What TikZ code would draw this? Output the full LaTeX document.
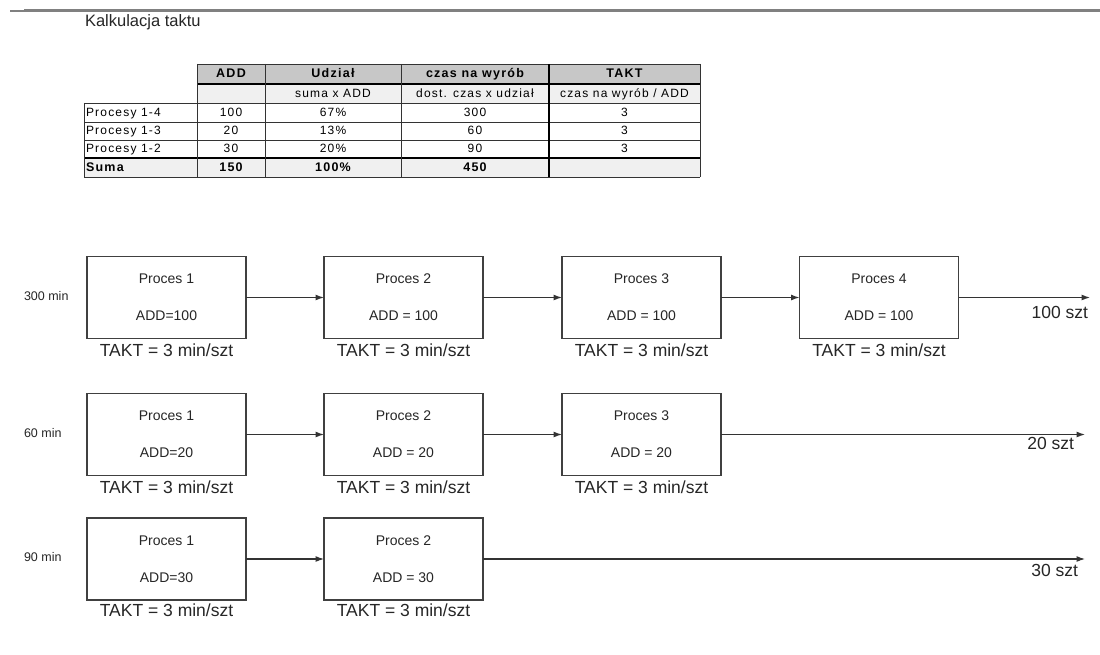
\documentclass[tikz,border=0pt]{standalone}
\usepackage{fontspec}
\setmainfont{Liberation Sans}
\newfontfamily\tabfont[LetterSpace=10]{Liberation Sans}
\usetikzlibrary{arrows.meta}
\begin{document}
\begin{tikzpicture}[x=1pt,y=-1pt,
  every node/.style={inner sep=0pt,outer sep=0pt,text=black!85},
  box/.style={draw=black!75,line width=1.2pt,minimum width=159pt,minimum height=82pt,align=center,font=\fontsize{14}{37}\selectfont},
  takt/.style={font=\fontsize{17.5}{20}\selectfont,text height=0.72em,text depth=0pt},
  mins/.style={anchor=west,font=\fontsize{12.5}{15}\selectfont,text height=0.72em,text depth=0pt},
  szt/.style={anchor=east,font=\fontsize{17.5}{20}\selectfont,text height=0.72em,text depth=0pt},
  flow/.style={draw=black!80,line width=1.1pt,-{Latex[length=8.5pt,width=6pt]}},
  tc/.style={font=\tabfont\fontsize{12}{14}\selectfont,text height=0.72em,text depth=0pt,text=black},
  tb/.style={font=\tabfont\bfseries\fontsize{12.5}{14}\selectfont,text height=0.72em,text depth=0pt,text=black},
  tl/.style={tc,anchor=west},
  thin/.style={draw=black!80,line width=0.8pt},
  thick/.style={draw=black,line width=1.6pt}
]
\fill[white] (0,0) rectangle (1100,655);
\useasboundingbox (0,0) rectangle (1100,655);

% top rule
\draw[line width=2pt,black!50] (10,11.5) -- (24,11.5);
\draw[line width=3pt,black!50] (24,10.5) -- (1100,10.5);
\node[anchor=west,font=\fontsize{16.5}{20}\selectfont,text height=0.72em,text depth=0pt] (title) at (85,22.5) {Kalkulacja taktu};

% ---------- table ----------
\fill[black!22] (197,64) rectangle (700,84);
\fill[black!6] (197,84) rectangle (700,103);
\fill[black!6] (84,158) rectangle (700,177);
% horizontal lines
\draw[thin] (197,64) -- (700,64);
\draw[thin] (197,103) -- (700,103);
\draw[thin] (84,103) -- (197,103);
\draw[thin] (84,122) -- (700,122);
\draw[thin] (84,140) -- (700,140);
\draw[thin] (84,177) -- (700,177);
\draw[thick] (197,84) -- (700,84);
\draw[thick] (84,158) -- (700,158);
% vertical lines
\draw[thin] (84,103) -- (84,177);
\draw[thin] (197,64) -- (197,177);
\draw[thin] (265,64) -- (265,177);
\draw[thin] (401,64) -- (401,177);
\draw[thin] (700,64) -- (700,177);
\draw[thick] (549,64) -- (549,177);

% header texts
\node[tb] (hadd) at (231,74) {ADD};
\node[tb] (hudz) at (333,74) {Udział};
\node[tb] (hczas) at (475,74) {czas na wyrób};
\node[tb] (htakt) at (624.5,74) {TAKT};
\node[tc] (sudz) at (333,93.5) {suma x ADD};
\node[tc] (sczas) at (475,93.5) {dost. czas x udział};
\node[tc] (stakt) at (624.5,93.5) {czas na wyrób / ADD};
% rows
\node[tl] (r1n) at (86,112.5) {Procesy 1-4};
\node[tc] (r1a) at (231,112.5) {100};
\node[tc] (r1u) at (333,112.5) {67\%};
\node[tc] (r1c) at (475,112.5) {300};
\node[tc] (r1t) at (624.5,112.5) {3};
\node[tl] (r2n) at (86,131) {Procesy 1-3};
\node[tc] (r2a) at (231,131) {20};
\node[tc] (r2u) at (333,131) {13\%};
\node[tc] (r2c) at (475,131) {60};
\node[tc] (r2t) at (624.5,131) {3};
\node[tl] (r3n) at (86,149) {Procesy 1-2};
\node[tc] (r3a) at (231,149) {30};
\node[tc] (r3u) at (333,149) {20\%};
\node[tc] (r3c) at (475,149) {90};
\node[tc] (r3t) at (624.5,149) {3};
\node[tb,anchor=west] (sn) at (86,167.5) {Suma};
\node[tb] (sa) at (231,167.5) {150};
\node[tb] (su) at (333,167.5) {100\%};
\node[tb] (sc) at (475,167.5) {450};

% ---------- row 1 ----------
\node[mins] (m1) at (24,297) {300 min};
\node[box] (p11) at (166.5,297.5) {Proces 1\\ADD=100};
\node[box] (p12) at (403.5,297.5) {Proces 2\\ADD = 100};
\node[box] (p13) at (641.5,297.5) {Proces 3\\ADD = 100};
\node[box] (p14) at (879,297.5) {Proces 4\\ADD = 100};
\node[takt] (t11) at (166.5,353) {TAKT = 3 min/szt};
\node[takt] (t12) at (403.5,353) {TAKT = 3 min/szt};
\node[takt] (t13) at (641.5,353) {TAKT = 3 min/szt};
\node[takt] (t14) at (879,353) {TAKT = 3 min/szt};
\coordinate (e1) at (1090,297.5);
\draw[flow] (p11) -- (p12);
\draw[flow] (p12) -- (p13);
\draw[flow] (p13) -- (p14);
\draw[flow] (p14) -- (e1);
\node[szt] (s1) at (1088,315) {100 szt};

% ---------- row 2 ----------
\node[mins] (m2) at (24,434) {60 min};
\node[box] (p21) at (166.5,434.5) {Proces 1\\ADD=20};
\node[box] (p22) at (403.5,434.5) {Proces 2\\ADD = 20};
\node[box] (p23) at (641.5,434.5) {Proces 3\\ADD = 20};
\node[takt] (t21) at (166.5,490) {TAKT = 3 min/szt};
\node[takt] (t22) at (403.5,490) {TAKT = 3 min/szt};
\node[takt] (t23) at (641.5,490) {TAKT = 3 min/szt};
\coordinate (e2) at (1085,434.5);
\draw[flow] (p21) -- (p22);
\draw[flow] (p22) -- (p23);
\draw[flow] (p23) -- (e2);
\node[szt] (s2) at (1074,446) {20 szt};

% ---------- row 3 ----------
\node[mins] (m3) at (24,558) {90 min};
\node[box] (p31) at (166.5,559) {Proces 1\\ADD=30};
\node[box] (p32) at (403.5,559) {Proces 2\\ADD = 30};
\node[takt] (t31) at (166.5,613) {TAKT = 3 min/szt};
\node[takt] (t32) at (403.5,613) {TAKT = 3 min/szt};
\coordinate (e3) at (1085,559);
\draw[flow] (p31) -- (p32);
\draw[flow] (p32) -- (e3);
\node[szt] (s3) at (1078,573) {30 szt};
\end{tikzpicture}
\end{document}
